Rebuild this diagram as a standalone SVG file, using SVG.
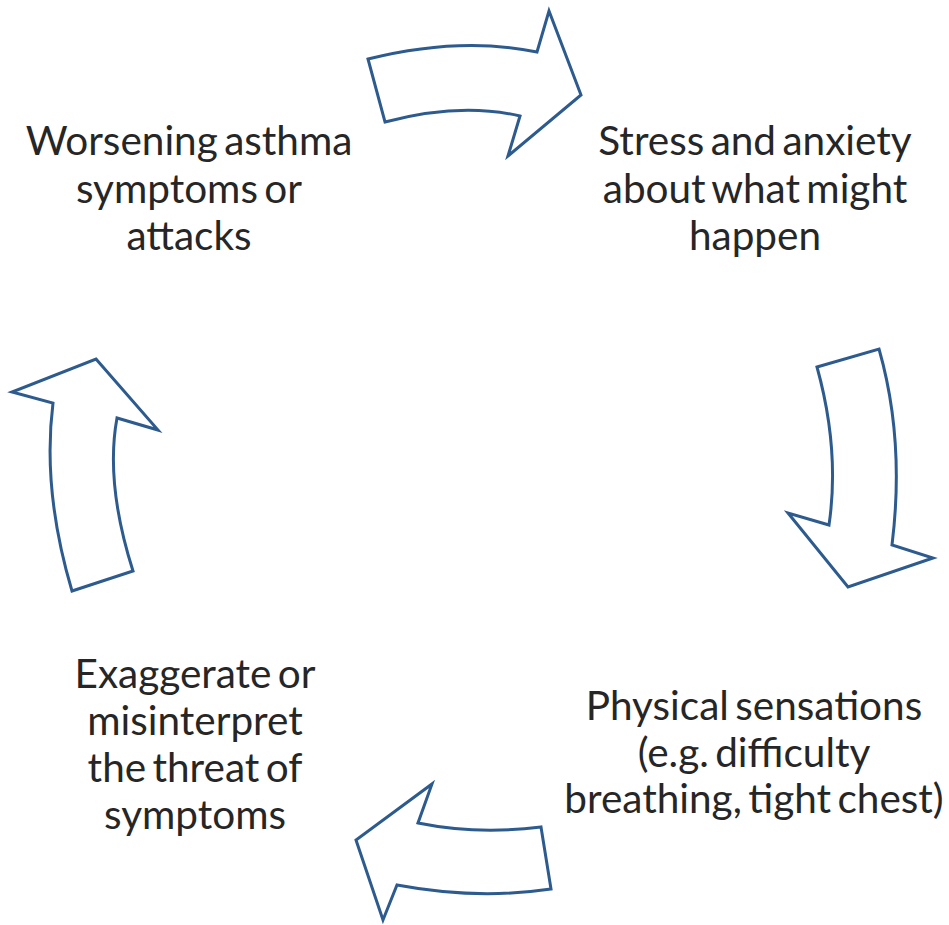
<svg xmlns="http://www.w3.org/2000/svg" width="949" height="925" viewBox="0 0 949 925">
<style>
.arrow{fill:#ffffff;stroke:#2d5b8e;stroke-width:3;stroke-linejoin:miter}
.lbl{font-family:Lato,"Open Sans",sans-serif;font-size:40.5px;fill:#262626;text-anchor:middle;word-spacing:-4px}
</style>
<rect width="949" height="925" fill="#ffffff"/>
<g id="connectors">
<path id="arrow-top" class="arrow" d="M368,59 Q460,36 537,52 L549,11 L581,95 L508,156 L520,116 Q460,102 385,122 Z"/>
<path id="arrow-right" class="arrow" d="M817,367 L879,349 Q905,440 892,545 L933,558 L848,587 L788,513 L829,525 Q840,450 817,367 Z"/>
<path id="arrow-bottom" class="arrow" d="M541,827 L551,889 Q477,900 397,885 L383,920 L356,840 L432,784 L418,823 Q477,835 541,827 Z"/>
<path id="arrow-left" class="arrow" d="M96,359 L158,430 L117,418 Q105,483 133,571 L72,591 Q42,490 53,403 L12,392 Z"/>
</g>
<g id="node-worsening">
<text class="lbl" x="189" y="155">Worsening asthma</text>
<text class="lbl" x="189" y="203">symptoms or</text>
<text class="lbl" x="189" y="250">attacks</text>
</g>
<g id="node-stress">
<text class="lbl" x="755" y="155">Stress and anxiety</text>
<text class="lbl" x="755" y="203">about what might</text>
<text class="lbl" x="755" y="250">happen</text>
</g>
<g id="node-physical">
<text class="lbl" x="754" y="720">Physical sensations</text>
<text class="lbl" x="754" y="767">(e.g. difficulty</text>
<text class="lbl" x="754" y="813">breathing, tight chest)</text>
</g>
<g id="node-exaggerate">
<text class="lbl" x="195" y="688">Exaggerate or</text>
<text class="lbl" x="195" y="735">misinterpret</text>
<text class="lbl" x="195" y="782">the threat of</text>
<text class="lbl" x="195" y="829">symptoms</text>
</g>
</svg>
